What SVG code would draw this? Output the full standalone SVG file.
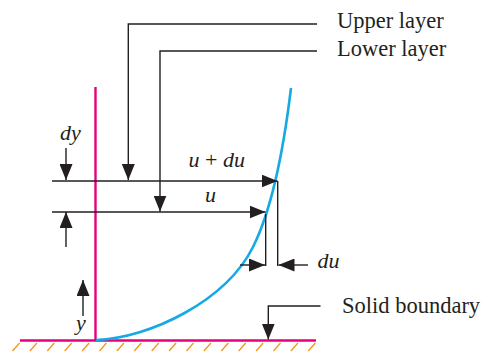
<svg xmlns="http://www.w3.org/2000/svg" width="485" height="352" viewBox="0 0 485 352">
<defs>
<marker id="ah" markerUnits="userSpaceOnUse" markerWidth="16" markerHeight="13" refX="16" refY="6.5" orient="auto">
<path d="M0,0 L16,6.5 L0,13 z" fill="#231f20"/>
</marker>
<style>
.ln{fill:none;stroke:#231f20;stroke-width:1.4}
.ar{fill:none;stroke:#231f20;stroke-width:1.4;marker-end:url(#ah)}
.t{font-family:"Liberation Serif","Times New Roman",serif;fill:#231f20}
.i{font-style:italic}
.hatch{stroke:#f7941d;stroke-width:1.3}
</style>
</defs>
<rect width="485" height="352" fill="#ffffff"/>

<g id="ground">
<g class="hatch">
<path d="M12.5,351 l7,-8 M29.9,351 l7,-8 M47.3,351 l7,-8 M64.7,351 l7,-8 M82.1,351 l7,-8 M99.5,351 l7,-8 M116.9,351 l7,-8 M134.3,351 l7,-8 M151.7,351 l7,-8 M169.1,351 l7,-8 M186.5,351 l7,-8 M203.9,351 l7,-8 M221.3,351 l7,-8 M238.7,351 l7,-8 M256.1,351 l7,-8 M273.5,351 l7,-8 M290.9,351 l7,-8 M308.3,351 l7,-8"/>
</g>
<line x1="20" y1="340.5" x2="316" y2="340.5" stroke="#e6007e" stroke-width="2.6"/>
</g>

<g id="wall">
<line x1="95.5" y1="87" x2="95.5" y2="340" stroke="#e6007e" stroke-width="2.4"/>
</g>

<g id="profile">
<path d="M96,340 C150,338 226,301 253,247 C275,203 285,138 291,88" fill="none" stroke="#17a9e1" stroke-width="2.6"/>
</g>

<g id="connectors">
<line class="ar" x1="52" y1="181" x2="277.5" y2="181"/>
<line class="ar" x1="52" y1="212" x2="265.5" y2="212"/>
<line class="ln" x1="277.7" y1="181" x2="277.7" y2="266"/>
<line class="ln" x1="265.7" y1="214" x2="265.7" y2="266"/>
<line class="ar" x1="240" y1="265" x2="265" y2="265"/>
<line class="ar" x1="308" y1="265" x2="278.5" y2="265"/>
<line class="ar" x1="66" y1="148" x2="66" y2="180"/>
<line class="ar" x1="66" y1="247" x2="66" y2="212"/>
<line class="ar" x1="83" y1="316" x2="83" y2="280"/>
<polyline class="ar" points="317,24 128.3,24 128.3,180"/>
<polyline class="ar" points="317,51 160,51 160,211.5"/>
<polyline class="ar" points="320.5,306 268.3,306 268.3,339.5"/>
</g>

<g id="labels">
<text class="t" x="337" y="28" font-size="22.5">Upper layer</text>
<text class="t" x="337" y="56" font-size="22.5">Lower layer</text>
<text class="t" x="342" y="313" font-size="22.5">Solid boundary</text>
<text class="t i" x="60" y="140" font-size="22">dy</text>
<text class="t" x="188.5" y="167" font-size="22"><tspan class="i">u</tspan> + <tspan class="i">du</tspan></text>
<text class="t i" x="205" y="202" font-size="22">u</text>
<text class="t i" x="317.5" y="268" font-size="22">du</text>
<text class="t i" x="76" y="330" font-size="22">y</text>
</g>
</svg>
